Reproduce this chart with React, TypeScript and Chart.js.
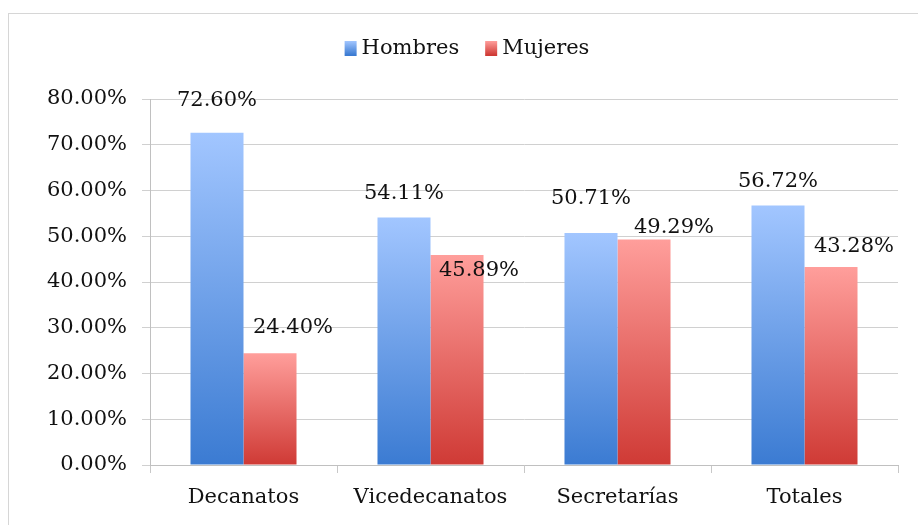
import React, { useEffect, useRef } from "react";
import { Chart, registerables } from "chart.js";

Chart.register(...registerables);

const categories = ["Decanatos", "Vicedecanatos", "Secretarías", "Totales"];
const hombres = [72.6, 54.11, 50.71, 56.72];
const mujeres = [24.4, 45.89, 49.29, 43.28];
const yTicks = [0, 10, 20, 30, 40, 50, 60, 70, 80];

// manual label nudges (like hand-placed labels in the original)
const hombresLabelDx = [0, 0, 0, 0];
const hombresLabelDy = [-32, -24, -34, -24];
const mujeresLabelDx = [23, 22, 30, 23];
const mujeresLabelDy = [-26, 15, -12, -20];

const FONT = "'DejaVu Serif', serif";
const BLUE_TOP = "#a2c6ff";
const BLUE_BOT = "#3b7bd2";
const RED_TOP = "#ff9e9b";
const RED_BOT = "#cf3a35";

function barGradient(ctx: any, top: string, bot: string, fallback: string) {
  const chart = ctx.chart;
  const yScale = chart.scales && chart.scales.y;
  if (!yScale || ctx.raw === undefined) return fallback;
  const yTop = yScale.getPixelForValue(ctx.raw);
  const yBase = yScale.getPixelForValue(0);
  if (!isFinite(yTop) || !isFinite(yBase) || yTop === yBase) return fallback;
  const g = chart.ctx.createLinearGradient(0, yTop, 0, yBase);
  g.addColorStop(0, top);
  g.addColorStop(1, bot);
  return g;
}

const framePlugin = {
  id: "frame",
  beforeDraw(chart: any) {
    const c = chart.ctx;
    c.save();
    c.fillStyle = "#ffffff";
    c.fillRect(0, 0, chart.width, chart.height);
    c.strokeStyle = "#d6d6d6";
    c.lineWidth = 1;
    c.strokeRect(8.5, 13.5, 1000, 1000);
    c.restore();
  },
};

const legendPlugin = {
  id: "customLegend",
  afterDraw(chart: any) {
    const c = chart.ctx;
    c.save();
    c.font = `21px ${FONT}`;
    c.textBaseline = "middle";
    c.fillStyle = "#111111";
    const items = [
      { label: "Hombres", top: BLUE_TOP, bot: BLUE_BOT },
      { label: "Mujeres", top: RED_TOP, bot: RED_BOT },
    ];
    const box = 12;
    const gap = 5;
    const itemGap = 26;
    const widths = items.map((it) => box + gap + c.measureText(it.label).width);
    const total = widths.reduce((a, b) => a + b, 0) + itemGap * (items.length - 1);
    let x = 467 - total / 2;
    const cy = 48;
    items.forEach((it, i) => {
      const g = c.createLinearGradient(0, cy - 7, 0, cy + 7);
      g.addColorStop(0, it.top);
      g.addColorStop(1, it.bot);
      c.fillStyle = g;
      c.fillRect(x, cy - 7, box, 15);
      c.fillStyle = "#111111";
      c.textAlign = "left";
      c.fillText(it.label, x + box + gap, cy + 1);
      x += widths[i] + itemGap;
    });
    c.restore();
  },
};

const labelsPlugin = {
  id: "valueLabels",
  afterDatasetsDraw(chart: any) {
    const c = chart.ctx;
    c.save();
    c.font = `21px ${FONT}`;
    c.fillStyle = "#111111";
    c.textAlign = "center";
    c.textBaseline = "middle";
    const nudges = [
      { dx: hombresLabelDx, dy: hombresLabelDy },
      { dx: mujeresLabelDx, dy: mujeresLabelDy },
    ];
    chart.data.datasets.forEach((ds: any, di: number) => {
      const meta = chart.getDatasetMeta(di);
      meta.data.forEach((bar: any, i: number) => {
        const v = ds.data[i] as number;
        const txt = v.toFixed(2) + "%";
        c.fillText(txt, bar.x + nudges[di].dx[i], bar.y + nudges[di].dy[i]);
      });
    });
    c.restore();
  },
};

export default function App() {
  const ref = useRef<HTMLCanvasElement | null>(null);

  useEffect(() => {
    if (!ref.current) return;
    const chart = new Chart(ref.current, {
      type: "bar",
      data: {
        labels: categories,
        datasets: [
          {
            label: "Hombres",
            data: hombres,
            backgroundColor: (ctx: any) => barGradient(ctx, BLUE_TOP, BLUE_BOT, "#6b9de8"),
            borderWidth: 0,
            categoryPercentage: 0.567,
            barPercentage: 1,
          },
          {
            label: "Mujeres",
            data: mujeres,
            backgroundColor: (ctx: any) => barGradient(ctx, RED_TOP, RED_BOT, "#e86b67"),
            borderWidth: 0,
            categoryPercentage: 0.567,
            barPercentage: 1,
          },
        ],
      },
      options: {
        responsive: false,
        animation: false,
        layout: { padding: { top: 99, left: 0, right: 20, bottom: 0 } },
        plugins: {
          legend: { display: false },
          tooltip: { enabled: false },
          title: { display: false },
        },
        scales: {
          x: {
            afterFit: (s: any) => {
              s.height = 60;
            },
            grid: {
              offset: true,
              drawOnChartArea: false,
              drawTicks: true,
              tickLength: 8,
              color: "#c8c8c8",
            },
            border: { display: true, color: "#c0c0c0" },
            ticks: {
              font: { family: FONT, size: 21 },
              color: "#111111",
              padding: 12,
            },
          },
          y: {
            min: 0,
            max: 80,
            afterFit: (s: any) => {
              s.width = 150;
            },
            afterBuildTicks: (s: any) => {
              s.ticks = yTicks.map((v) => ({ value: v }));
            },
            grid: {
              color: "#d0d0d0",
              drawTicks: true,
              tickLength: 8,
            },
            border: { display: true, color: "#c0c0c0" },
            ticks: {
              font: { family: FONT, size: 21 },
              color: "#111111",
              padding: 15,
              callback: (v: any) => Number(v).toFixed(2) + "%",
            },
          },
        },
      },
      plugins: [framePlugin, legendPlugin, labelsPlugin],
    });
    return () => chart.destroy();
  }, []);

  return (
    <div style={{ position: "absolute", left: 0, top: 0, width: 918, height: 525 }}>
      <canvas ref={ref} width={918} height={525} style={{ display: "block" }} />
    </div>
  );
}
